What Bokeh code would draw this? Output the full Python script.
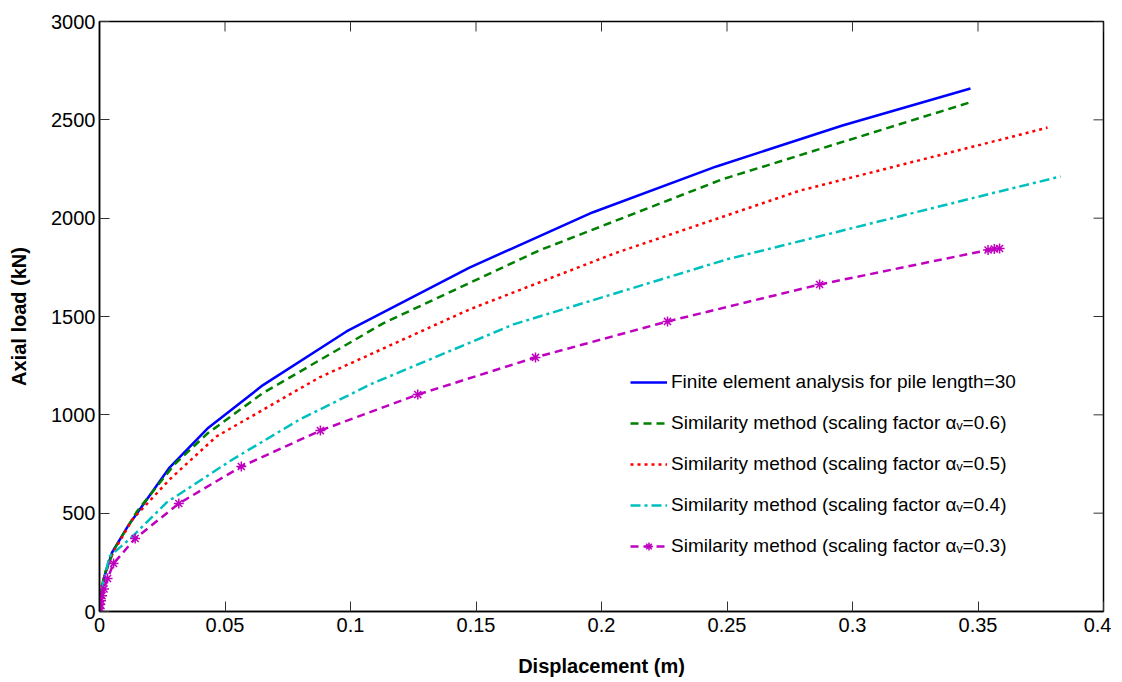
from bokeh.plotting import figure
from bokeh.models import Legend, LegendItem, FixedTicker, Range1d
from bokeh.embed import file_html
from bokeh.resources import INLINE

# ---- data ----
x_ticks = [0, 0.05, 0.1, 0.15, 0.2, 0.25, 0.3, 0.35, 0.4]
x_tick_labels = ["0", "0.05", "0.1", "0.15", "0.2", "0.25", "0.3", "0.35", "0.4"]
y_ticks = [0, 500, 1000, 1500, 2000, 2500, 3000]
y_tick_labels = ["0", "500", "1000", "1500", "2000", "2500", "3000"]

fea_x = [0, 0.0005, 0.002, 0.005, 0.0112, 0.0279, 0.043, 0.065, 0.0984, 0.1474, 0.1964, 0.2458, 0.296, 0.347]
fea_y = [0, 80, 180, 300, 432, 732, 930, 1150, 1424, 1749, 2029, 2263, 2471, 2659]

s06_x = [0, 0.0005, 0.002, 0.006, 0.015, 0.03, 0.043, 0.065, 0.113, 0.175, 0.248, 0.3466]
s06_y = [0, 100, 190, 320, 510, 750, 905, 1110, 1465, 1835, 2197, 2588]

s05_x = [0, 0.0005, 0.002, 0.005, 0.0131, 0.0279, 0.0466, 0.0876, 0.1474, 0.205, 0.279, 0.3586, 0.3777]
s05_y = [0, 90, 180, 290, 468, 671, 890, 1190, 1536, 1820, 2140, 2398, 2461]

s04_x = [0, 0.0005, 0.0015, 0.004, 0.0131, 0.0267, 0.053, 0.0797, 0.1088, 0.165, 0.2498, 0.3586, 0.3829]
s04_y = [0, 60, 150, 280, 381, 554, 773, 976, 1160, 1460, 1790, 2136, 2212]

s03_x = [0, 0.0001, 0.0003, 0.0006, 0.001, 0.0018, 0.0032, 0.0056, 0.0142, 0.0316, 0.0565, 0.088,
         0.1268, 0.1737, 0.2263, 0.2869, 0.354, 0.3565, 0.3586]
s03_y = [0, 15, 35, 55, 80, 115, 168, 244, 371, 549, 737, 920, 1103, 1292, 1475, 1663, 1838, 1843, 1846]

labels = [
    "Finite element analysis for pile length=30",
    "Similarity method (scaling factor \u03b1\u1d65=0.6)",
    "Similarity method (scaling factor \u03b1\u1d65=0.5)",
    "Similarity method (scaling factor \u03b1\u1d65=0.4)",
    "Similarity method (scaling factor \u03b1\u1d65=0.3)",
]

FONT = "Liberation Sans"
X_MIN, X_MAX = 0, 0.4
Y_MIN, Y_MAX = 0, 3000
FRAME_W, FRAME_H = 1004, 590
TICK_PX = 10

p = figure(frame_width=FRAME_W, frame_height=FRAME_H,
           x_range=Range1d(X_MIN, X_MAX), y_range=Range1d(Y_MIN, Y_MAX),
           output_backend="svg", toolbar_location=None,
           min_border_left=99, min_border_right=8, min_border_top=21, min_border_bottom=68)

p.background_fill_color = "white"
p.border_fill_color = "white"
p.outline_line_color = "black"
p.outline_line_width = 1.5
p.xgrid.visible = False
p.ygrid.visible = False

r_fea = p.line(fea_x, fea_y, line_color="#0000FF", line_width=2.5)
r_06 = p.line(s06_x, s06_y, line_color="#008000", line_width=2.5, line_dash="8 5")
r_05 = p.line(s05_x, s05_y, line_color="#FF0000", line_width=2.5, line_dash="3 4")
r_04 = p.line(s04_x, s04_y, line_color="#00BFBF", line_width=2.5, line_dash="10 4 3 4")
r_03 = p.line(s03_x, s03_y, line_color="#BF00BF", line_width=2.5, line_dash="8 5")
r_03m = p.scatter(s03_x, s03_y, marker="asterisk", size=10, line_color="#BF00BF", line_width=1.5)

# ticks on top and right edges (boxed axes), inward
dx = TICK_PX * (X_MAX - X_MIN) / FRAME_W
dy = TICK_PX * (Y_MAX - Y_MIN) / FRAME_H
p.segment(x0=x_ticks, y0=[Y_MAX] * len(x_ticks), x1=x_ticks, y1=[Y_MAX - dy] * len(x_ticks),
          line_color="#333333", line_width=1)
p.segment(x0=[X_MAX] * len(y_ticks), y0=y_ticks, x1=[X_MAX - dx] * len(y_ticks), y1=y_ticks,
          line_color="#333333", line_width=1)

xa = p.xaxis[0]
ya = p.yaxis[0]
xa.ticker = FixedTicker(ticks=x_ticks)
ya.ticker = FixedTicker(ticks=y_ticks)
xa.major_label_overrides = {t: l for t, l in zip(x_ticks, x_tick_labels)}
ya.major_label_overrides = {t: l for t, l in zip(y_ticks, y_tick_labels)}
for ax in (xa, ya):
    ax.axis_line_color = "black"
    ax.axis_line_width = 1.5
    ax.major_tick_in = TICK_PX
    ax.major_tick_out = 0
    ax.minor_tick_in = 0
    ax.minor_tick_out = 0
    ax.major_tick_line_color = "#333333"
    ax.major_label_text_font = FONT
    ax.major_label_text_color = "black"
    ax.major_label_text_font_size = "20px"
    ax.axis_label_text_font = FONT
    ax.axis_label_text_font_style = "bold"
    ax.axis_label_text_font_size = "20px"
    ax.axis_label_text_color = "black"
xa.major_label_standoff = 6
ya.major_label_standoff = 4
xa.axis_label = "Displacement (m)"
ya.axis_label = "Axial load (kN)"
xa.axis_label_standoff = 20
ya.axis_label_standoff = 18

legend = Legend(items=[
    LegendItem(label=labels[0], renderers=[r_fea]),
    LegendItem(label=labels[1], renderers=[r_06]),
    LegendItem(label=labels[2], renderers=[r_05]),
    LegendItem(label=labels[3], renderers=[r_04]),
    LegendItem(label=labels[4], renderers=[r_03, r_03m]),
], location=(531, 54))
legend.border_line_color = None
legend.background_fill_alpha = 0
legend.padding = 0
legend.margin = 0
legend.spacing = 19
legend.glyph_width = 37
legend.glyph_height = 20
legend.label_height = 20
legend.label_standoff = 4
legend.label_text_font = FONT
legend.label_text_font_size = "19px"
legend.label_text_color = "black"
p.add_layout(legend, "center")

open("out.html", "w").write(file_html(p, INLINE))
